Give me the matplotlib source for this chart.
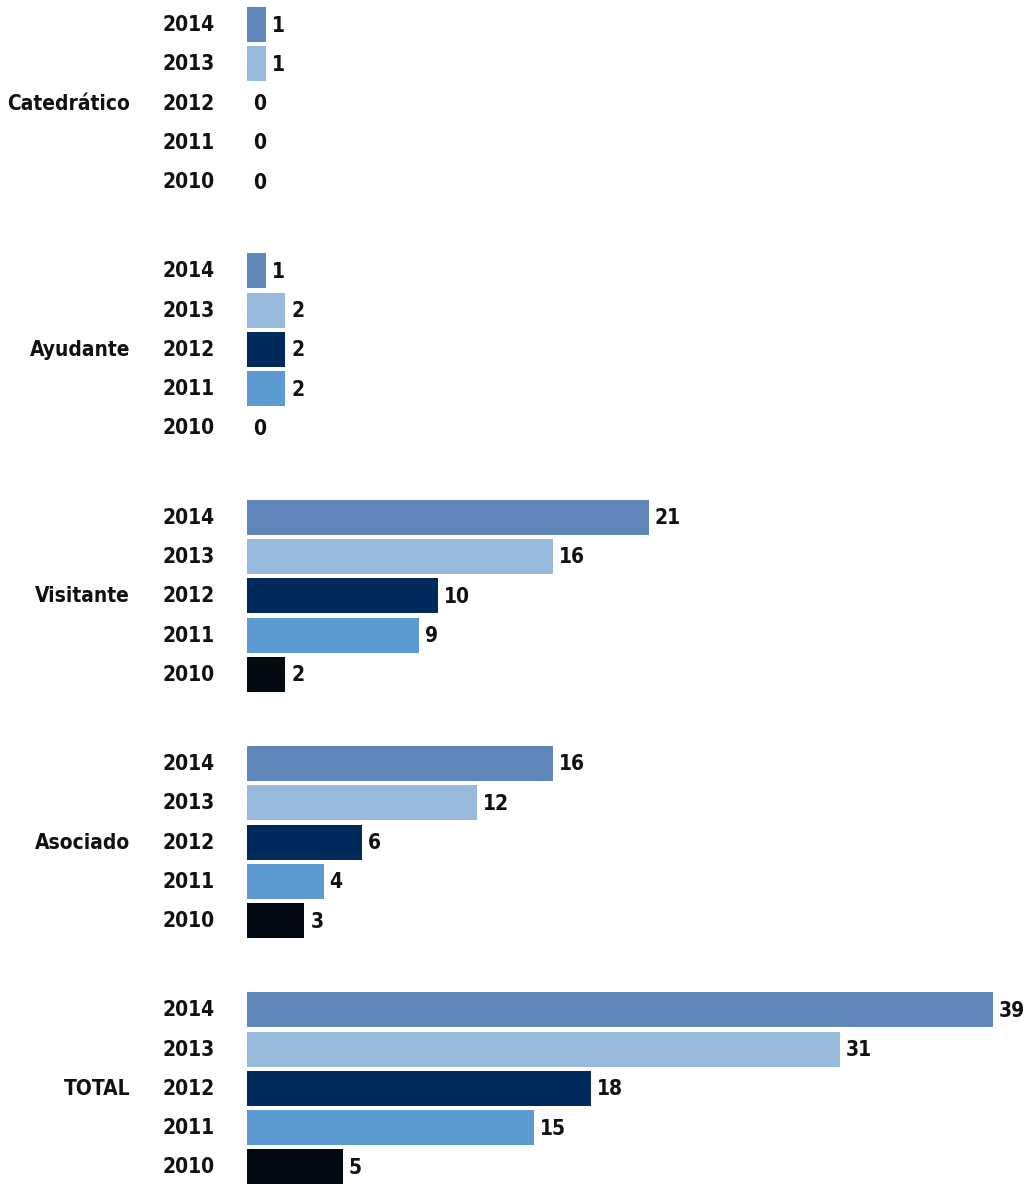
import matplotlib
matplotlib.use("Agg")
import matplotlib.pyplot as plt

categories = ["Catedrático", "Ayudante", "Visitante", "Asociado", "TOTAL"]
years = ["2014", "2013", "2012", "2011", "2010"]
values = {
    "Catedrático": [1, 1, 0, 0, 0],
    "Ayudante":    [1, 2, 2, 2, 0],
    "Visitante":   [21, 16, 10, 9, 2],
    "Asociado":    [16, 12, 6, 4, 3],
    "TOTAL":       [39, 31, 18, 15, 5],
}
year_colors = ["#5f87b9", "#97b9dc", "#002a5c", "#5b9bd2", "#030a14"]

FONT = ["DejaVu Sans"]
FS = 15
KW = dict(fontsize=FS, fontweight="bold", family=FONT, fontstretch="condensed",
          color="#111111")

W, H = 1026, 1184
fig = plt.figure(figsize=(W / 100, H / 100), dpi=100)
x0, x1 = 247, 993
ax = fig.add_axes([x0 / W, 0, (x1 - x0) / W, 1])
ax.set_xlim(0, 39)
ax.set_ylim(H, 0)
ax.axis("off")

top = 24.5
row_step = 39.3
group_step = 246.3
bar_h = 35

px_per_unit = (x1 - x0) / 39
for g, cat in enumerate(categories):
    for i, yr in enumerate(years):
        yc = top + g * group_step + i * row_step
        v = values[cat][i]
        ax.barh(yc, v, height=bar_h, color=year_colors[i], left=0)
        ax.text(v + 6 / px_per_unit, yc + 1, str(v), ha="left", va="center", **KW)
        fig.text(215 / W, 1 - (yc + 0.5) / H, yr, ha="right", va="center", **KW)
    yc = top + g * group_step + 2 * row_step
    fig.text(130 / W, 1 - (yc + 0.5) / H, cat, ha="right", va="center", **KW)

fig.savefig("out.png", dpi=100, facecolor="white")
